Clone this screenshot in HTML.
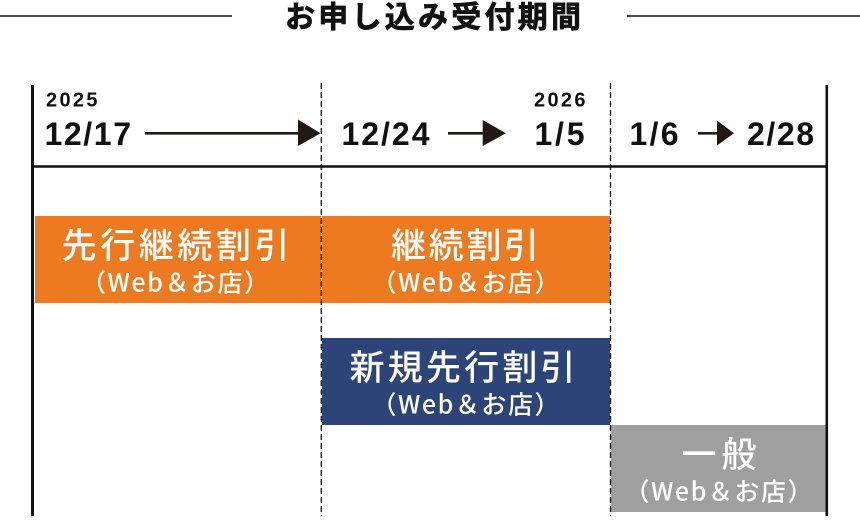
<!DOCTYPE html>
<html>
<head>
<meta charset="utf-8">
<style>
  html, body { margin: 0; padding: 0; background: #ffffff; }
  body { width: 860px; height: 529px; overflow: hidden; }
  svg { display: block; }
  .ttl { font-family: "Noto Sans CJK JP", "Liberation Sans", sans-serif; font-weight: 700; font-size: 30px; fill: #111111; stroke: #111111; stroke-width: 0.7px; }
  .date { font-family: "Liberation Sans", "DejaVu Sans", sans-serif; font-weight: 700; font-size: 32px; fill: #111111; }
  .year { font-family: "Liberation Sans", "DejaVu Sans", sans-serif; font-weight: 700; font-size: 20px; fill: #111111; }
  .hd { font-family: "Noto Sans CJK JP", "Liberation Sans", sans-serif; font-weight: 500; font-size: 35px; fill: #ffffff; }
  .sub { font-family: "Noto Sans CJK JP", "Liberation Sans", sans-serif; font-weight: 500; font-size: 25px; fill: #ffffff; }
</style>
</head>
<body>
<svg width="860" height="529" viewBox="0 0 860 529" xmlns="http://www.w3.org/2000/svg">
  <!-- Title -->
  <line x1="0" y1="16" x2="232" y2="16" stroke="#111" stroke-width="1.6"/>
  <line x1="627" y1="16" x2="860" y2="16" stroke="#111" stroke-width="1.6"/>
  <text class="ttl" x="285" y="27.5" textLength="296" lengthAdjust="spacing">お申し込み受付期間</text>

  <!-- Boxes -->
  <rect x="35" y="216" width="286" height="87" fill="#ED7A21"/>
  <rect x="322" y="216" width="288" height="87" fill="#ED7A21"/>
  <rect x="322" y="338" width="288" height="87" fill="#2D4479"/>
  <rect x="611" y="425" width="215" height="87" fill="#9F9F9F"/>

  <!-- Frame lines -->
  <line x1="32.5" y1="85" x2="32.5" y2="516" stroke="#111" stroke-width="3"/>
  <line x1="826.8" y1="85" x2="826.8" y2="516" stroke="#111" stroke-width="2.6"/>
  <line x1="32" y1="166.5" x2="828" y2="166.5" stroke="#111" stroke-width="2.4"/>

  <!-- Dashed dividers -->
  <line x1="321.3" y1="83" x2="321.3" y2="516" stroke="#111" stroke-width="1.3" stroke-dasharray="6,3"/>
  <line x1="610.5" y1="83" x2="610.5" y2="516" stroke="#111" stroke-width="1.3" stroke-dasharray="6,3"/>

  <!-- Years -->
  <text class="year" x="46" y="106.5" textLength="51.5" lengthAdjust="spacing">2025</text>
  <text class="year" x="534" y="106.5" textLength="51.5" lengthAdjust="spacing">2026</text>

  <!-- Dates -->
  <text class="date" x="44.5" y="145" textLength="86.5" lengthAdjust="spacing">12/17</text>
  <text class="date" x="341.5" y="145" textLength="88" lengthAdjust="spacing">12/24</text>
  <text class="date" x="534.5" y="145" textLength="50" lengthAdjust="spacing">1/5</text>
  <text class="date" x="629.5" y="145" textLength="49" lengthAdjust="spacing">1/6</text>
  <text class="date" x="747" y="145" textLength="67" lengthAdjust="spacing">2/28</text>

  <!-- Arrows -->
  <line x1="145" y1="133.3" x2="300" y2="133.3" stroke="#231815" stroke-width="2.7"/>
  <polygon points="298,119.5 320.5,133.3 298,146" fill="#231815"/>
  <line x1="448" y1="133.3" x2="485" y2="133.3" stroke="#231815" stroke-width="2.7"/>
  <polygon points="482.7,120 506,133.3 482.7,146" fill="#231815"/>
  <line x1="698" y1="133.3" x2="719" y2="133.3" stroke="#231815" stroke-width="2.7"/>
  <polygon points="717,120.5 734,133.3 717,145.5" fill="#231815"/>

  <!-- Box labels -->
  <text class="hd" x="175.5" y="258" text-anchor="middle" textLength="228" lengthAdjust="spacing">先行継続割引</text>
  <text class="sub" x="175" y="291.5" text-anchor="middle" textLength="188" lengthAdjust="spacing">（Web＆お店）</text>

  <text class="hd" x="465" y="258" text-anchor="middle" textLength="148" lengthAdjust="spacing">継続割引</text>
  <text class="sub" x="465.5" y="291.5" text-anchor="middle" textLength="188" lengthAdjust="spacing">（Web＆お店）</text>

  <text class="hd" x="462.5" y="380" text-anchor="middle" textLength="226" lengthAdjust="spacing">新規先行割引</text>
  <text class="sub" x="465.5" y="413.5" text-anchor="middle" textLength="188" lengthAdjust="spacing">（Web＆お店）</text>

  <text class="hd" x="719" y="467" text-anchor="middle" textLength="75" lengthAdjust="spacing">一般</text>
  <text class="sub" x="718.5" y="500.5" text-anchor="middle" textLength="188" lengthAdjust="spacing">（Web＆お店）</text>
</svg>
</body>
</html>
